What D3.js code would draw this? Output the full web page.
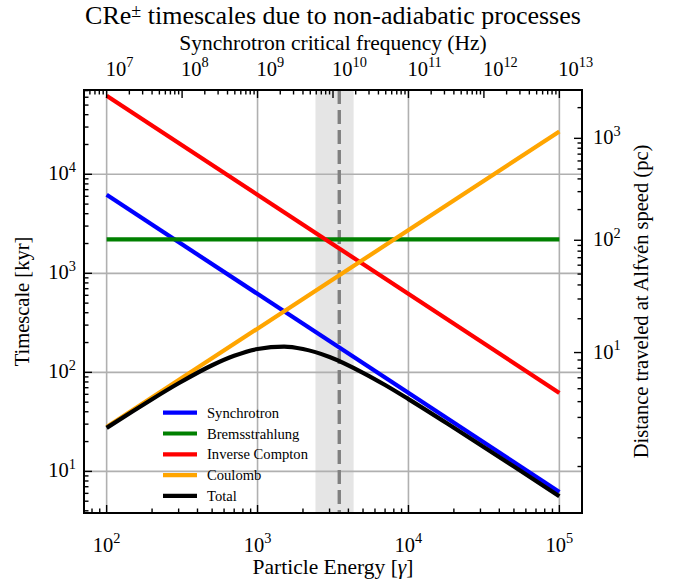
<!DOCTYPE html>
<html>
<head>
<meta charset="utf-8">
<script src="https://cdn.jsdelivr.net/npm/d3@7"></script>
<style>
  body { margin: 0; background: #fff; }
  svg { display: block; }
  text { font-family: "Liberation Serif", "DejaVu Serif", serif; fill: #000; }
</style>
</head>
<body>
<svg id="chart" width="694" height="582"></svg>
<script>
const WIDTH = 694, HEIGHT = 582;
const LEFT = 84, RIGHT = 582, TOP = 90, BOTTOM = 513;

// particle energy (gamma) where the straight processes are sampled
const gammaEnds = [100, 100000];
const syncEnds = [6200, 6.2];
const bremEnds = [2200, 2200];
const icEnds = [62000, 62];
const coulEnds = [28, 27000];

// total timescale
const gammaTotal = [100, 150, 200, 300, 500, 700, 1000, 1500, 2000, 3000, 5000, 7000, 10000, 20000, 50000, 100000];
const totalVals = [27.5, 40.8, 53.6, 77.6, 118, 147, 172, 182, 172, 143, 99, 74.5, 53.7, 27.6, 11.2, 5.6];

// shaded band and dashed marker (gamma)
const bandGamma = [2420, 4330];
const markGamma = 3480;

// top axis: synchrotron critical frequency at the gamma ends
const freqEnds = [1e7, 1e13];
const freqMajor = [7, 8, 9, 10, 11, 12, 13];

// right axis: distance (pc) and the timescale (kyr) it lines up with
const distVals = [1.05, 2, 10, 100, 1000, 2970];
const distTimeEquiv = [3.83, 11.2, 158.5, 2157, 23070, 70800];
const distMajor = [1, 2, 3];

const xMajor = [2, 3, 4, 5];
const yMajor = [1, 2, 3, 4];

const seriesNames = ["Synchrotron", "Bremsstrahlung", "Inverse Compton", "Coulomb", "Total"];
const seriesColors = ["#0000ff", "#008000", "#ff0000", "#ffa500", "#000000"];

const svg = d3.select("#chart");

const x = d3.scaleLog().domain([Math.pow(10, 1.85), Math.pow(10, 5.15)]).range([LEFT, RIGHT]);
const y = d3.scaleLog().domain([3.8, 71000]).range([BOTTOM, TOP]);
const xTop = d3.scaleLog().domain(freqEnds).range(gammaEnds.map(x));
const yRight = d3.scaleLog().domain(distVals).range(distTimeEquiv.map(y));

function logTicks(scale, e0, e1, lo, hi){
    var out = [];
    for (let e = e0; e <= e1; e++){
        for (let m = 1; m <= 9; m++){
            let v = m * Math.pow(10, e);
            let p = scale(v);
            if (p >= lo - 0.5 && p <= hi + 0.5) out.push({v: v, p: p, major: m == 1, e: e});
        }
    }
    return out;
}

function powLabel(sel, e, size){
    sel.append("tspan").text("10");
    sel.append("tspan")
        .attr("dy", -size * 0.42)
        .attr("font-size", size * 0.7)
        .text(e);
}

// band
svg.append("rect")
    .attr("x", x(bandGamma[0]))
    .attr("y", TOP)
    .attr("width", x(bandGamma[1]) - x(bandGamma[0]))
    .attr("height", BOTTOM - TOP)
    .attr("fill", "#e5e5e5");

// grid
var grid = svg.append("g").attr("stroke", "#b0b0b0").attr("stroke-width", 1.6);
xMajor.forEach(e=>{
    grid.append("line")
        .attr("x1", x(Math.pow(10, e))).attr("x2", x(Math.pow(10, e)))
        .attr("y1", TOP).attr("y2", BOTTOM);
});
yMajor.forEach(e=>{
    grid.append("line")
        .attr("x1", LEFT).attr("x2", RIGHT)
        .attr("y1", y(Math.pow(10, e))).attr("y2", y(Math.pow(10, e)));
});

// dashed marker
svg.append("line")
    .attr("x1", x(markGamma)).attr("x2", x(markGamma))
    .attr("y1", TOP).attr("y2", BOTTOM)
    .attr("stroke", "#808080")
    .attr("stroke-width", 3.4)
    .attr("stroke-dasharray", "14,6");

// series
var line = d3.line().x(d=>x(d[0])).y(d=>y(d[1]));
var straight = [syncEnds, bremEnds, icEnds, coulEnds];
var plot = svg.append("g");
straight.forEach((vals, i)=>{
    plot.append("path")
        .attr("d", line(gammaEnds.map((g, j)=>[g, vals[j]])))
        .attr("fill", "none")
        .attr("stroke", seriesColors[i])
        .attr("stroke-width", 4.2);
});
plot.append("path")
    .attr("d", line.curve(d3.curveMonotoneX)(gammaTotal.map((g, j)=>[g, totalVals[j]])))
    .attr("fill", "none")
    .attr("stroke", seriesColors[4])
    .attr("stroke-width", 4.2);

// legend
var legend = svg.append("g");
seriesNames.forEach((name, i)=>{
    var ly = 412.7 + i * 20.8;
    legend.append("line")
        .attr("x1", 163).attr("x2", 197)
        .attr("y1", ly).attr("y2", ly)
        .attr("stroke", seriesColors[i])
        .attr("stroke-width", 4.2);
    legend.append("text")
        .attr("x", 207).attr("y", ly + 5)
        .attr("font-size", 14.6)
        .text(name);
});

// ticks
var ticks = svg.append("g").attr("stroke", "#000").attr("stroke-width", 1.4);
var MAJ = 8, MIN = 4.5, FS = 20.5;

logTicks(x, 1, 5, LEFT, RIGHT).forEach(t=>{
    let len = t.major ? MAJ : MIN;
    ticks.append("line").attr("x1", t.p).attr("x2", t.p).attr("y1", BOTTOM).attr("y2", BOTTOM - len);
    if (t.major) svg.append("text").attr("x", t.p).attr("y", 552).attr("text-anchor", "middle")
        .attr("font-size", FS).call(powLabel, t.e, FS);
});
logTicks(xTop, 6, 13, LEFT, RIGHT).forEach(t=>{
    let len = t.major ? MAJ : MIN;
    ticks.append("line").attr("x1", t.p).attr("x2", t.p).attr("y1", TOP).attr("y2", TOP + len);
    if (t.major && freqMajor.includes(t.e)) svg.append("text").attr("x", t.p - 1).attr("y", 76).attr("text-anchor", "start")
        .attr("font-size", FS).call(powLabel, t.e, FS);
});
logTicks(y, 0, 4, TOP, BOTTOM).forEach(t=>{
    let len = t.major ? MAJ : MIN;
    ticks.append("line").attr("x1", LEFT).attr("x2", LEFT + len).attr("y1", t.p).attr("y2", t.p);
    if (t.major && yMajor.includes(t.e)) svg.append("text").attr("x", 76).attr("y", t.p + 6).attr("text-anchor", "end")
        .attr("font-size", FS).call(powLabel, t.e, FS);
});
logTicks(yRight, 0, 3, TOP, BOTTOM).forEach(t=>{
    let len = t.major ? MAJ : MIN;
    ticks.append("line").attr("x1", RIGHT).attr("x2", RIGHT - len).attr("y1", t.p).attr("y2", t.p);
    if (t.major && distMajor.includes(t.e)) svg.append("text").attr("x", 593).attr("y", t.p + 6).attr("text-anchor", "start")
        .attr("font-size", FS).call(powLabel, t.e, FS);
});

// frame
svg.append("rect")
    .attr("x", LEFT).attr("y", TOP)
    .attr("width", RIGHT - LEFT).attr("height", BOTTOM - TOP)
    .attr("fill", "none").attr("stroke", "#000").attr("stroke-width", 2);

// labels
var title = svg.append("text").attr("x", (LEFT + RIGHT) / 2).attr("y", 24)
    .attr("text-anchor", "middle").attr("font-size", 26);
title.append("tspan").text("CRe");
title.append("tspan").attr("dy", -7).attr("font-size", 18).text("±");
title.append("tspan").attr("dy", 7).text(" timescales due to non-adiabatic processes");

svg.append("text").attr("x", (LEFT + RIGHT) / 2).attr("y", 50)
    .attr("text-anchor", "middle").attr("font-size", 21.5)
    .text("Synchrotron critical frequency (Hz)");

var xl = svg.append("text").attr("x", (LEFT + RIGHT) / 2).attr("y", 574)
    .attr("text-anchor", "middle").attr("font-size", 21.5);
xl.append("tspan").text("Particle Energy [");
xl.append("tspan").attr("font-style", "italic").text("γ");
xl.append("tspan").text("]");

svg.append("text").attr("transform", "translate(29," + (TOP + BOTTOM) / 2 + ") rotate(-90)")
    .attr("text-anchor", "middle").attr("font-size", 20.5)
    .text("Timescale [kyr]");

svg.append("text").attr("transform", "translate(648," + (TOP + BOTTOM) / 2 + ") rotate(-90)")
    .attr("text-anchor", "middle").attr("font-size", 20.5)
    .text("Distance traveled at Alfvén speed (pc)");
</script>
</body>
</html>
